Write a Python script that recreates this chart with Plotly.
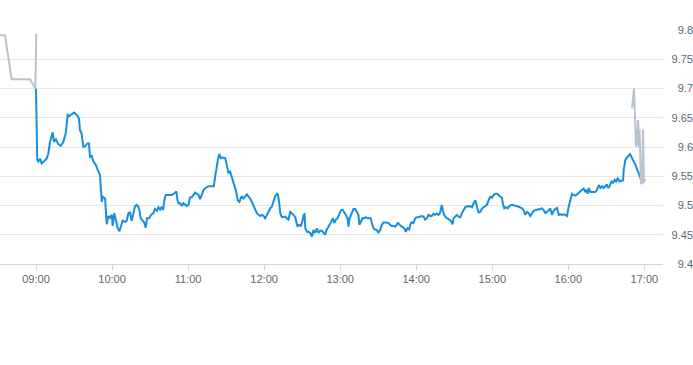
import pandas as pd
import plotly.graph_objects as go

BASE = pd.Timestamp("2024-01-02 09:00")

# Regular session (minutes after 09:00, price)
session_min = [0, 1.0, 1.8, 3.2, 4.5, 6.3, 8.4, 9.7, 11.1, 13.2, 14.2, 15.8, 17.6, 19.5, 21.6, 23.4,
    25.0, 26.3, 28.2, 30.0, 32.1, 33.9, 34.7, 36.0, 37.4, 38.7, 40.5, 41.8, 42.6, 44.0, 45.3, 47.1,
    48.7, 50.5, 51.1, 51.9, 52.6, 54.5, 55.3, 55.8, 57.1, 58.4, 59.8, 60.5, 61.8, 63.2, 64.5, 65.8,
    66.8, 68.4, 70.3, 71.6, 72.9, 74.2, 75.5, 76.8, 78.2, 79.5, 80.8, 81.6, 82.6, 83.9, 85.3, 86.6,
    87.6, 89.2, 90.8, 92.6, 93.9, 95.3, 96.6, 97.9, 99.2, 100.3, 101.3, 102.4, 104.5, 107.1, 109.2,
    110.8, 111.6, 112.4, 113.7, 115.0, 116.3, 117.6, 119.0, 120.3, 121.6, 122.9, 124.2, 125.5, 126.9,
    128.2, 129.5, 130.8, 132.1, 133.4, 134.8, 136.1, 138.7, 140.3, 141.3, 142.7, 143.9, 144.7, 145.8,
    147.1, 148.4, 149.2, 150.6, 151.8, 153.2, 154.5, 155.8, 157.1, 157.9, 159.2, 160.5, 161.8, 162.4,
    163.7, 165.0, 166.4, 167.7, 169.0, 170.3, 171.6, 172.9, 174.3, 175.6, 176.9, 178.2, 179.5, 180.8,
    182.2, 183.5, 184.8, 186.1, 187.4, 188.7, 190.1, 190.9, 191.9, 192.7, 194.0, 195.3, 196.6, 197.9,
    199.2, 200.6, 201.9, 203.2, 204.5, 205.3, 206.3, 207.7, 209.0, 210.3, 211.1, 211.9, 212.5, 213.7,
    215.0, 216.4, 217.7, 219.0, 220.3, 221.6, 222.9, 224.2, 225.6, 226.9, 228.2, 229.0, 230.3, 231.6,
    232.9, 234.2, 235.3, 236.6, 237.9, 239.2, 240.6, 241.9, 243.2, 244.5, 245.8, 246.6, 247.4, 248.6,
    250.5, 251.8, 253.1, 254.4, 255.2, 256.3, 257.6, 258.9, 260.2, 261.6, 262.9, 264.2, 265.0, 266.3,
    267.6, 268.9, 270.2, 271.5, 272.9, 274.2, 276.8, 278.1, 279.4, 280.7, 282.1, 283.4, 284.7, 285.5,
    286.8, 288.1, 289.4, 290.7, 291.8, 293.1, 294.4, 295.7, 296.5, 297.8, 299.2, 300.5, 301.8, 303.1,
    304.4, 305.7, 307.0, 308.4, 309.7, 311.0, 312.3, 313.6, 314.9, 316.3, 317.6, 318.9, 320.2, 321.0,
    322.0, 323.3, 324.7, 326.0, 327.3, 328.6, 329.5, 330.8, 332.1, 333.4, 334.7, 336.1, 337.4, 338.7,
    340.0, 341.3, 342.6, 344.0, 345.3, 346.6, 347.9, 349.2, 350.5, 351.9, 353.2, 354.5, 355.8, 357.1,
    358.4, 359.7, 361.1, 362.4, 363.7, 365.0, 366.3, 367.6, 368.4, 369.5, 370.8, 372.1, 373.4, 374.7,
    376.8, 378.2, 379.5, 380.8, 382.1, 383.4, 384.7, 386.1, 387.4, 388.7, 390.0, 391.3, 392.6, 394.0,
    395.3, 396.6, 397.9, 399.2, 400.5, 401.9, 403.2, 404.5, 405.8, 407.1, 408.4, 409.7, 411.1, 412.4,
    413.7, 415.0, 416.3, 417.6, 419.0, 420.3, 421.6, 422.9, 424.2, 425.5, 426.9, 428.2, 429.5, 430.8,
    432.1, 433.4, 434.2, 435.3, 436.1, 437.4, 441.3, 442.6, 444.0, 445.3, 446.6, 447.9, 449.2, 450.5,
    451.3, 452.6, 454.0, 455.3, 456.6, 457.6, 459.0, 460.3, 461.6, 463.2, 463.7, 465.0, 466.3, 467.6,
    468.7, 469.8, 471.1, 472.4, 473.7, 475.0, 476.4, 477.7, 479.0, 480.0]
session_px = [9.700, 9.578, 9.575, 9.580, 9.572, 9.575, 9.580, 9.589, 9.609, 9.625, 9.609, 9.613, 9.605, 9.602, 9.609, 9.623,
    9.655, 9.653, 9.656, 9.659, 9.655, 9.649, 9.629, 9.623, 9.600, 9.601, 9.606, 9.606, 9.583, 9.585, 9.575, 9.570,
    9.561, 9.552, 9.532, 9.506, 9.515, 9.512, 9.484, 9.468, 9.482, 9.479, 9.484, 9.465, 9.487, 9.470, 9.461, 9.456,
    9.463, 9.474, 9.472, 9.474, 9.487, 9.488, 9.474, 9.487, 9.499, 9.501, 9.498, 9.492, 9.478, 9.475, 9.471, 9.462,
    9.478, 9.478, 9.484, 9.487, 9.494, 9.491, 9.497, 9.493, 9.498, 9.492, 9.510, 9.518, 9.518, 9.518, 9.521,
    9.524, 9.509, 9.504, 9.504, 9.499, 9.504, 9.501, 9.499, 9.501, 9.514, 9.514, 9.518, 9.522, 9.520,
    9.518, 9.511, 9.518, 9.526, 9.529, 9.532, 9.533, 9.533, 9.533, 9.549, 9.569, 9.583, 9.588, 9.581,
    9.582, 9.581, 9.581, 9.569, 9.555, 9.558, 9.549, 9.541, 9.529, 9.524, 9.509, 9.506, 9.514, 9.515,
    9.512, 9.515, 9.519, 9.515, 9.512, 9.506, 9.499, 9.494, 9.487, 9.484, 9.482, 9.484, 9.482, 9.478,
    9.485, 9.491, 9.495, 9.498, 9.506, 9.516, 9.520, 9.519, 9.504, 9.487, 9.480, 9.480, 9.481, 9.478,
    9.476, 9.489, 9.487, 9.484, 9.480, 9.471, 9.464, 9.467, 9.465, 9.474, 9.484, 9.485, 9.461, 9.455,
    9.455, 9.453, 9.447, 9.458, 9.453, 9.461, 9.453, 9.457, 9.457, 9.453, 9.450, 9.457, 9.461, 9.467,
    9.472, 9.478, 9.470, 9.476, 9.478, 9.484, 9.492, 9.493, 9.489, 9.484, 9.478, 9.464, 9.478, 9.484,
    9.494, 9.494, 9.489, 9.484, 9.467, 9.471, 9.478, 9.478, 9.480, 9.478, 9.478, 9.478, 9.470, 9.461,
    9.459, 9.458, 9.454, 9.458, 9.467, 9.471, 9.471, 9.470, 9.467, 9.465, 9.465, 9.464, 9.467, 9.471,
    9.467, 9.465, 9.463, 9.461, 9.455, 9.461, 9.459, 9.470, 9.471, 9.470, 9.478, 9.480, 9.480, 9.481,
    9.482, 9.481, 9.476, 9.478, 9.484, 9.482, 9.482, 9.486, 9.484, 9.486, 9.484, 9.488, 9.501, 9.492,
    9.484, 9.480, 9.478, 9.476, 9.474, 9.468, 9.478, 9.481, 9.484, 9.481, 9.480, 9.487, 9.492, 9.497,
    9.499, 9.498, 9.499, 9.497, 9.504, 9.509, 9.498, 9.488, 9.489, 9.495, 9.497, 9.499, 9.501, 9.509,
    9.515, 9.513, 9.518, 9.520, 9.520, 9.518, 9.515, 9.513, 9.503, 9.495, 9.497, 9.495, 9.499, 9.501,
    9.501, 9.499, 9.499, 9.498, 9.497, 9.495, 9.492, 9.484, 9.489, 9.487, 9.482, 9.487, 9.491, 9.492,
    9.493, 9.493, 9.495, 9.495, 9.492, 9.487, 9.489, 9.493, 9.495, 9.484, 9.491, 9.494, 9.496, 9.484,
    9.485, 9.484, 9.485, 9.484, 9.482, 9.498, 9.509, 9.520, 9.518, 9.517, 9.519, 9.522, 9.525, 9.527,
    9.529, 9.523, 9.527, 9.520, 9.530, 9.523, 9.523, 9.527, 9.535, 9.530, 9.533, 9.530, 9.533, 9.536,
    9.530, 9.533, 9.541, 9.539, 9.544, 9.541, 9.547, 9.541, 9.542, 9.543, 9.561, 9.578, 9.582, 9.586,
    9.588, 9.583, 9.578, 9.572, 9.565, 9.558, 9.549, 9.543, 9.541, 9.541]

# Extended hours (grey)
pre_min = [-35.0, -24.5, -19.2, -4.7, -0.5, 0.2]
pre_px = [9.791, 9.791, 9.716, 9.716, 9.700, 9.793]
post_min = [470.3, 470.8, 471.8, 473.4, 474.0, 475.0, 475.8, 476.2, 477.3, 478.3, 479.0, 479.6, 481.0]
post_px = [9.666, 9.680, 9.700, 9.600, 9.605, 9.646, 9.600, 9.630, 9.538, 9.538, 9.630, 9.540, 9.545]

y_ticks = [9.4, 9.45, 9.5, 9.55, 9.6, 9.65, 9.7, 9.75, 9.8]
y_labels = ["9.4", "9.45", "9.5", "9.55", "9.6", "9.65", "9.7", "9.75", "9.8"]
x_start_min, x_end_min = -28.4, 494.7


def to_time(mins):
    return BASE + pd.to_timedelta(pd.Series(mins), unit="m")


BLUE = "#168fde"
GREY = "#b8c3cd"
FONT = "Liberation Sans, Arial, sans-serif"

fig = go.Figure()
fig.add_trace(go.Scatter(x=to_time(session_min), y=session_px, mode="lines",
                         line=dict(color=BLUE, width=2), hoverinfo="skip", showlegend=False))
fig.add_trace(go.Scatter(x=to_time(pre_min), y=pre_px, mode="lines",
                         line=dict(color=GREY, width=2), hoverinfo="skip", showlegend=False))
fig.add_trace(go.Scatter(x=to_time(post_min), y=post_px, mode="lines",
                         line=dict(color=GREY, width=2), hoverinfo="skip", showlegend=False))

fig.update_layout(
    width=693, height=365,
    margin=dict(l=0, r=0, t=30, b=101),
    paper_bgcolor="white", plot_bgcolor="white",
    showlegend=False,
    xaxis=dict(
        domain=[0, 663 / 693],
        type="date",
        range=[BASE + pd.Timedelta(minutes=x_start_min), BASE + pd.Timedelta(minutes=x_end_min)],
        tickformat="%H:%M", dtick=3600000, tick0=BASE,
        ticks="outside", ticklen=5, tickcolor="#ccd6eb", tickwidth=1,
        showline=True, linecolor="#ccd6eb", linewidth=1,
        showgrid=False, zeroline=False,
        tickfont=dict(family=FONT, size=11, color="#666666"),
    ),
    yaxis=dict(
        range=[9.4, 9.8],
        tickvals=y_ticks, ticktext=y_labels,
        anchor="free", position=1.0, side="left",
        showgrid=True, gridcolor="#e6e6e6", gridwidth=1,
        showline=False, zeroline=False, ticks="",
        tickfont=dict(family=FONT, size=11, color="#666666"),
    ),
)

fig.write_html("out.html")
